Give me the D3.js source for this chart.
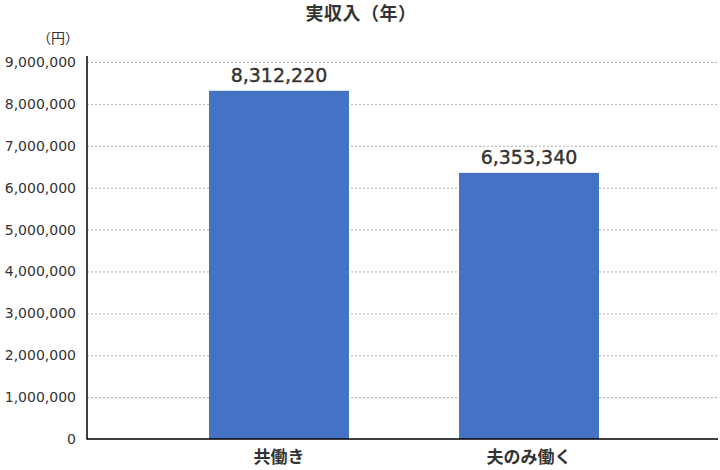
<!DOCTYPE html>
<html>
<head>
<meta charset="utf-8">
<script src="https://cdn.jsdelivr.net/npm/d3@7"></script>
<style>
  body { margin: 0; background: #fff; }
  text { font-family: "Noto Sans CJK JP", "Noto Sans", sans-serif; fill: #333; }
  .grid line { stroke: #b0b0b0; stroke-dasharray: 2,2; }
  .num { font-family: "DejaVu Sans", sans-serif; }
</style>
</head>
<body>
<svg id="chart" width="720" height="470"></svg>
<script>
var categories = ["共働き", "夫のみ働く"];
var values = [8312220, 6353340];
var yTicks = [0, 1000000, 2000000, 3000000, 4000000, 5000000, 6000000, 7000000, 8000000, 9000000];

var svg = d3.select("#chart");
var plotLeft = 87, plotRight = 718, plotTop = 62, plotBottom = 439;

var y = d3.scaleLinear().domain([0, 9000000]).range([plotBottom, plotTop]);
var x = d3.scaleBand().domain(categories)
  .range([154, 654])
  .paddingInner(0.44)
  .paddingOuter(0.22);

var fmt = d3.format(",");

// grid
svg.append("g").attr("class", "grid")
  .selectAll("line")
  .data(yTicks.slice(1))
  .enter().append("line")
  .attr("x1", plotLeft).attr("x2", plotRight)
  .attr("y1", function(d) { return y(d) + 0.5; })
  .attr("y2", function(d) { return y(d) + 0.5; });

// bars
svg.selectAll("rect.bar")
  .data(values)
  .enter().append("rect")
  .attr("class", "bar")
  .attr("x", function(d, i) { return x(categories[i]); })
  .attr("width", x.bandwidth())
  .attr("y", function(d) { return y(d); })
  .attr("height", function(d) { return plotBottom - y(d); })
  .attr("fill", "#4472c4");

// value labels
svg.selectAll("text.val")
  .data(values)
  .enter().append("text")
  .attr("class", "val num")
  .attr("x", function(d, i) { return x(categories[i]) + x.bandwidth() / 2; })
  .attr("y", function(d) { return y(d) - 9; })
  .attr("text-anchor", "middle")
  .style("font-size", "19px")
  .attr("stroke", "#333").attr("stroke-width", 0.4)
  .text(function(d) { return fmt(d); });

// y axis
var yAxis = d3.axisLeft(y).tickValues(yTicks).tickFormat(fmt).tickSize(0).tickPadding(11);
var gy = svg.append("g").attr("transform", "translate(" + plotLeft + ",0)").call(yAxis);
gy.select(".domain").remove();
gy.selectAll("text").attr("class", "num").style("font-size", "14px")
  .style("font-family", "\"DejaVu Sans\", sans-serif").attr("fill", "#333");

// x axis
var xAxis = d3.axisBottom(x).tickSize(0).tickPadding(12);
var gx = svg.append("g").attr("transform", "translate(0," + plotBottom + ")").call(xAxis);
gx.select(".domain").remove();
gx.selectAll("text").style("font-size", "17px").style("font-weight", 700)
  .style("font-family", "\"Noto Sans CJK JP\", sans-serif").attr("fill", "#333");

// axis lines
svg.append("line").attr("x1", plotLeft).attr("x2", plotLeft).attr("y1", 56).attr("y2", plotBottom + 0.5)
  .attr("stroke", "#000").attr("stroke-width", 1.5);
svg.append("line").attr("x1", plotLeft).attr("x2", plotRight).attr("y1", plotBottom).attr("y2", plotBottom)
  .attr("stroke", "#000").attr("stroke-width", 1.5);

// title & unit
svg.append("text").attr("x", 361).attr("y", 20).attr("text-anchor", "middle")
  .style("font-size", "18px").style("font-weight", 700).style("letter-spacing", "0.5px").text("実収入（年）");
svg.append("text").attr("x", 79).attr("y", 43).attr("text-anchor", "end")
  .style("font-size", "14px").text("（円）");
</script>
</body>
</html>
